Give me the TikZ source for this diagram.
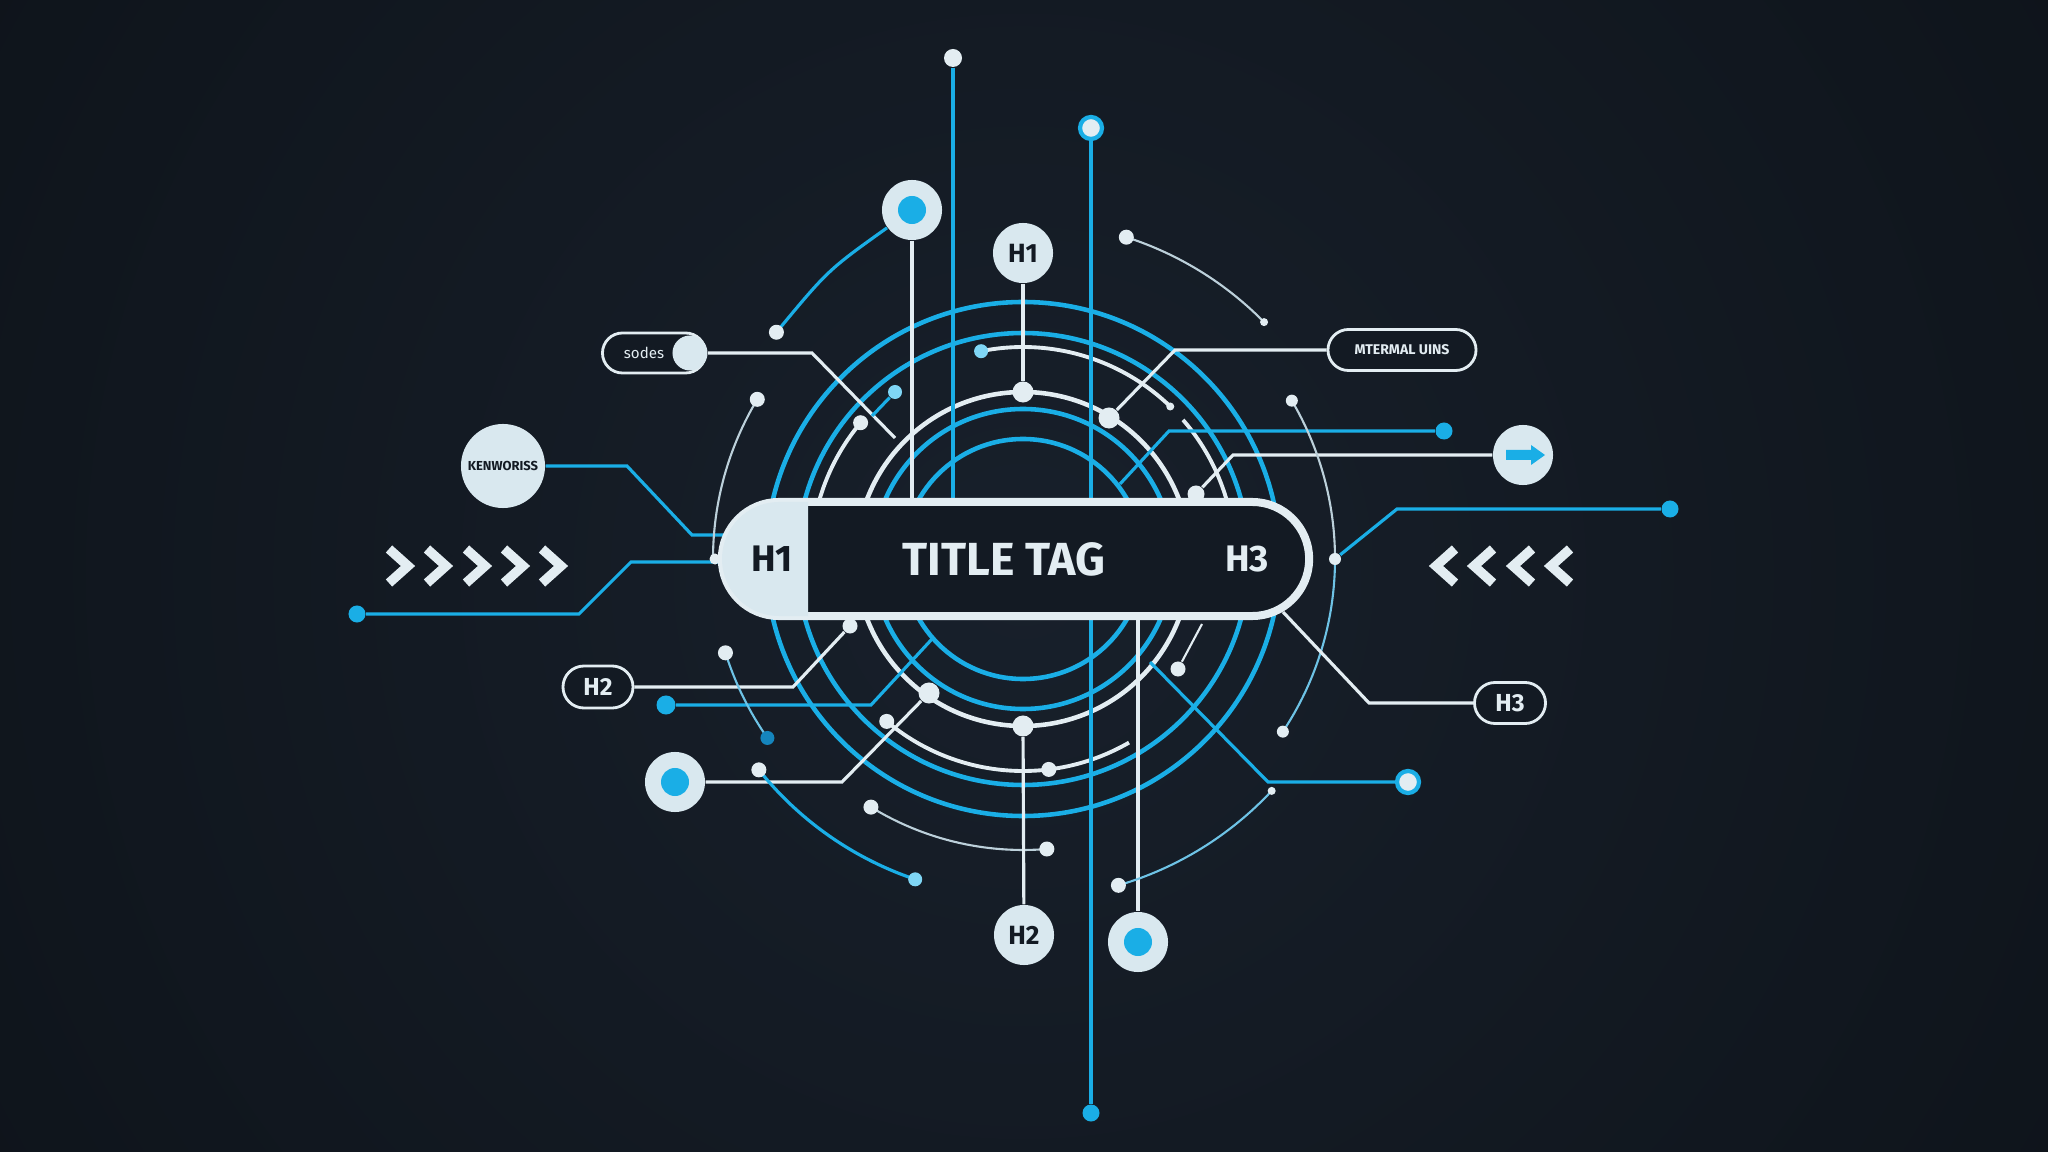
\documentclass[tikz,border=0pt]{standalone}
\usepackage{fontspec}
\setmainfont{Fira Sans}
\usetikzlibrary{calc,shapes.misc}
\definecolor{bgdark}{HTML}{0C1117}
\definecolor{bgmid}{HTML}{18202B}
\definecolor{cyanc}{HTML}{1AAEE6}
\definecolor{lcyan}{HTML}{7FD6F5}
\definecolor{whitec}{HTML}{E3EDF2}
\definecolor{lightc}{HTML}{D9E8EF}
\definecolor{darkc}{HTML}{131A23}
\definecolor{thinc}{HTML}{BCD0DA}
\definecolor{thinb}{HTML}{6EC3E6}
\definecolor{deepblue}{HTML}{1585BD}
\pgfdeclarelayer{back}
\pgfsetlayers{back,main}
\tikzset{
  ring/.style={line width=1.3pt},
  bline/.style={cyanc, line width=0.9pt},
  wline/.style={whitec, line width=0.9pt},
  thinline/.style={thinc, line width=0.6pt},
  thinblue/.style={thinb, line width=0.6pt},
  wdot/.style={circle, fill=whitec, inner sep=0pt, minimum size=0.15cm},
  bigdot/.style={circle, fill=whitec, inner sep=0pt, minimum size=0.21cm},
  smalldot/.style={circle, fill=whitec, inner sep=0pt, minimum size=0.08cm},
  bdot/.style={circle, fill=cyanc, inner sep=0pt, minimum size=0.17cm},
  cdot/.style={circle, fill=lcyan, inner sep=0pt, minimum size=0.14cm},
  ringdot/.style={circle, draw=cyanc, line width=1.2pt, fill=whitec, inner sep=0pt, minimum size=0.22cm},
  bignode/.style={circle, fill=lightc, inner sep=0pt, minimum size=0.6cm,
    path picture={\fill[cyanc] (path picture bounding box.center) circle (0.14cm);}},
  hcircle/.style={circle, fill=lightc, inner sep=0pt, minimum size=0.6cm, text=darkc,
    font=\bfseries\fontsize{7.5}{8}\selectfont},
  tagpill/.style={rounded rectangle, draw=whitec, line width=0.8pt, fill=darkc, inner sep=0pt, text=whitec},
  chev/.style={whitec, line width=0.095cm, miter limit=10},
}
\begin{document}
\begin{tikzpicture}[x=0.01cm,y=-0.01cm]
\useasboundingbox (0,0) rectangle (2048,1152);
\coordinate (C) at (1023,559);

% ---------- title pill ----------
\node[rounded rectangle, fill=darkc, draw=whitec, line width=0.08cm,
      minimum width=5.87cm, minimum height=1.14cm, inner sep=0pt] (title) at (1015.5,559) {};
\fill[lightc] (808,502) -- (779,502) arc[start angle=-90, end angle=-270, radius=57] -- (808,616) -- cycle;
\node[text=whitec, font=\bfseries\fontsize{13.2}{15}\selectfont] (tt) at (1004,559) {TITLE TAG};
\node[text=darkc, font=\bfseries\fontsize{10.5}{12}\selectfont] (th1) at (772,559) {H1};
\node[text=whitec, font=\bfseries\fontsize{10.5}{12}\selectfont] (th3) at (1247,559) {H3};

% ---------- nodes ----------
\node[wdot, minimum size=0.18cm] (tdotA) at (953,58) {};
\node[ringdot] (tring) at (1091,128) {};
\node[bdot] (bBot) at (1091,1113) {};
\node[bignode] (big1) at (912,210) {};
\node[hcircle] (h1top) at (1023,253) {H1};
\node[bigdot] (dH1) at (1023,392) {};
\node[wdot] (dTR1) at ($(C)+(-72.2:338)$) {};
\node[smalldot] (dTR2) at ($(C)+(-44.5:338)$) {};
\node[wdot] (dTL) at ($(C)+(-137.4:335)$) {};
\node[wdot] (dL1) at ($(C)+(-149:310)$) {};
\node[wdot, minimum size=0.11cm] (dLe) at ($(C)+(-180:308)$) {};
\node[wdot] (dLA) at ($(C)+(-140:212)$) {};
\node[cdot] (dCy2) at (895,392) {};
\node[cdot] (dCy1) at ($(C)+(-101.4:212)$) {};
\node[smalldot] (dE1) at ($(C)+(-46:212)$) {};
\node[bigdot] (dM) at (1109,418) {};
\node[wdot, minimum size=0.17cm] (dA) at (1196,494) {};
\node[bdot] (bR1) at (1444,431) {};
\node[circle, fill=lightc, inner sep=0pt, minimum size=0.6cm] (arrowc) at (1523,455) {};
\fill[cyanc] (1506,450) -- (1531,450) -- (1531,445) -- (1545,455) -- (1531,465) -- (1531,460) -- (1506,460) -- cycle;
\node[wdot, minimum size=0.12cm] (dR1) at ($(C)+(-30.5:312)$) {};
\node[wdot, minimum size=0.12cm] (dR2) at ($(C)+(0:312)$) {};
\node[wdot, minimum size=0.12cm] (dR3) at ($(C)+(33.6:312)$) {};
\node[bdot] (bR2) at (1670,509) {};
\node[tagpill, minimum width=1.48cm, minimum height=0.41cm,
      font=\bfseries\fontsize{4}{5}\selectfont] (mterm) at (1402,350) {MTERMAL UINS};
\node[tagpill, minimum width=1.03cm, minimum height=0.40cm] (sodes) at (654,353) {};
\node[text=whitec, font=\fontsize{4.3}{5}\selectfont] (sodestxt) at (644,353) {sodes};
\node[circle, fill=lightc, inner sep=0pt, minimum size=0.35cm] (knob) at (690,353) {};
\node[circle, fill=lightc, inner sep=0pt, minimum size=0.84cm, text=darkc,
      font=\bfseries\fontsize{3.7}{4}\selectfont] (kw) at (503,466) {KENWORISS};
\node[bdot] (bL1) at (357,614) {};
\node[tagpill, minimum width=0.70cm, minimum height=0.42cm,
      font=\bfseries\fontsize{7}{8}\selectfont] (h2pill) at (598,687) {H2};
\node[wdot] (dP) at (850,626) {};
\node[bdot, minimum size=0.19cm] (bL2) at (666,705) {};
\node[bignode] (bigL) at (675,782) {};
\node[bigdot] (dW) at (929,693) {};
\node[wdot] (dL2) at ($(C)+(162.5:312)$) {};
\node[circle, fill=deepblue, inner sep=0pt, minimum size=0.14cm] (dL3) at ($(C)+(145:312)$) {};
\node[wdot] (dL4) at ($(C)+(141.4:338)$) {};
\node[cdot] (dL5) at ($(C)+(108.6:338)$) {};
\node[wdot] (dB1) at ($(C)+(121.5:291)$) {};
\node[wdot] (dB2) at ($(C)+(85.3:291)$) {};
\node[wdot] (dB5) at ($(C)+(130:212)$) {};
\node[wdot] (dB6) at ($(C)+(83:212)$) {};
\node[bigdot] (dH2) at (1023,726) {};
\node[hcircle] (h2c) at (1024,935) {H2};
\node[bignode] (bigB) at (1138,942) {};
\node[wdot] (dB3) at ($(C)+(73.7:340)$) {};
\node[smalldot] (dB4) at ($(C)+(43:340)$) {};
\node[ringdot] (rdB) at (1408,782) {};
\node[wdot] (dS) at (1178,669) {};
\node[tagpill, minimum width=0.71cm, minimum height=0.41cm,
      font=\bfseries\fontsize{7}{8}\selectfont] (h3pill) at (1510,703) {H3};

% chevrons
\foreach \cx in {400,438,477,515,553} {
  \draw[chev] (\cx-11,549) -- (\cx+8,566) -- (\cx-11,583);
}
\foreach \cx in {1444,1482,1521,1559} {
  \draw[chev] (\cx+11,549) -- (\cx-8,566) -- (\cx+11,583);
}

% free ends
\coordinate (eA) at (953,520);
\coordinate (eB) at (912,520);
\coordinate (eS) at (895,438);
\coordinate (eM1) at (1120,484);
\coordinate (eKW) at (740,535);
\coordinate (eL1) at (740,562);
\coordinate (eL2) at (932,639);
\coordinate (eBB) at (1138,610);
\coordinate (eBR) at (1150,662);
\coordinate (eH3) at (1283,612);
\coordinate (eS2) at (1202,624);
\coordinate (eCy) at (872,416);
\coordinate (aR) at ($(C)+(-41:212)$);
\coordinate (aB) at ($(C)+(132:212)$);

% ---------- back layer ----------
\begin{pgfonlayer}{back}
\fill[bgdark] (0,0) rectangle (2048,1152);
\shade[inner color=bgmid, outer color=bgdark] (1023,576) circle (1500);

% rings
\draw[cyanc, ring] (C) circle (257);
\draw[cyanc, ring] (C) circle (226);
\draw[whitec, ring] (C) circle (167);
\draw[cyanc, ring] (C) circle (150);
\draw[cyanc, ring] (C) circle (120);
\draw[wline, line width=1.1pt] (dCy1.center) arc[start angle=-101.4, end angle=-46, radius=212];
\draw[wline, line width=1.1pt] (aR) arc[start angle=-41, end angle=-10, radius=212];
\draw[wline, line width=1.1pt] (dLA.center) arc[start angle=-140, end angle=-178, radius=212];
\draw[wline, line width=1.1pt] (aB) arc[start angle=132, end angle=60, radius=212];

% connectors
\draw[bline] (tdotA) -- (eA);
\draw[bline] (tring) -- (bBot);
\draw[wline] (big1) -- (eB);
\draw[wline] (h1top) -- (dH1);
\draw[bline] (dTL.center) .. controls (828,270) .. (big1);
\draw[thinline] (dTR1.center) arc[start angle=-72.2, end angle=-44.5, radius=338];
\draw[wline] (knob) -- (812,353) -- (eS);
\draw[wline] (mterm) -- (1175,350) -- (dM);
\draw[bline] (bR1) -- (1169,431) -- (eM1);
\draw[wline] (arrowc) -- (1233,455) -- (dA);
\draw[bline] (dR2) -- (1397,509) -- (bR2);
\draw[thinline] (dR1.center) arc[start angle=-30.5, end angle=0, radius=312];
\draw[thinblue] (dR2.center) arc[start angle=0, end angle=33.6, radius=312];
\draw[bline] (kw) -- (627,466) -- (692,535) -- (eKW);
\draw[bline] (bL1) -- (579,614) -- (631,562) -- (eL1);
\draw[wline] (h2pill) -- (793,687) -- (dP);
\draw[bline] (bL2) -- (871,705) -- (eL2);
\draw[wline] (bigL) -- (842,782) -- (dW);
\draw[thinline] (dL1.center) arc[start angle=-149, end angle=-180, radius=310];
\draw[thinblue] (dL2.center) arc[start angle=162.5, end angle=145, radius=312];
\draw[bline] (dL4.center) arc[start angle=141.4, end angle=108.6, radius=338];
\draw[thinline] (dB1.center) arc[start angle=121.5, end angle=85.3, radius=291];
\draw[wline] (dH2) -- (h2c);
\draw[wline] (eBB) -- (bigB);
\draw[thinblue] (dB3.center) arc[start angle=73.7, end angle=43, radius=340];
\draw[bline] (eBR) -- (1268,782) -- (rdB);
\draw[wline] (h3pill) -- (1369,703) -- (eH3);
\draw[wline, line width=0.6pt] (dS) -- (eS2);
\draw[bline] (dCy2) -- (eCy);
\end{pgfonlayer}
\end{tikzpicture}
\end{document}
